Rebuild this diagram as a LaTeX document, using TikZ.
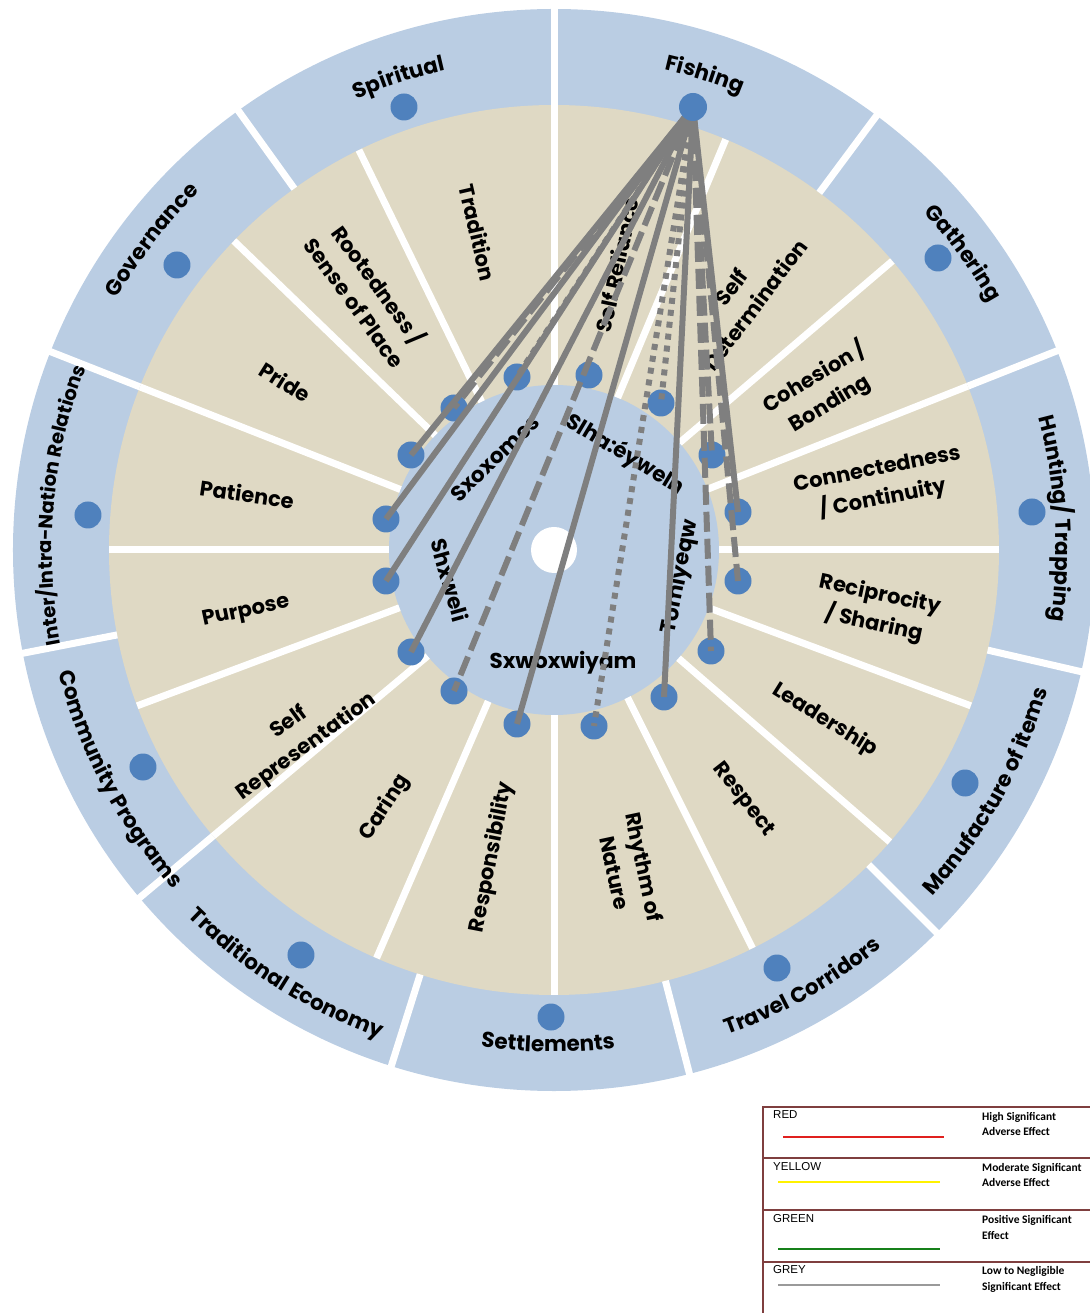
\documentclass[tikz,border=0pt]{standalone}
\usepackage{fontspec}
\setmainfont{Poppins}
\newfontfamily\keyfont{Liberation Sans}
\newfontfamily\notefont{Carlito}
\usetikzlibrary{decorations.text}

\definecolor{ringblue}{HTML}{BACDE3}
\definecolor{sand}{HTML}{DFD9C4}
\definecolor{dotblue}{HTML}{4F81BD}
\definecolor{linkgrey}{HTML}{7F7F7F}
\definecolor{keyframe}{HTML}{7F3F3F}
\definecolor{keyred}{HTML}{E0201E}
\definecolor{keyyellow}{HTML}{FFF200}
\definecolor{keygreen}{HTML}{16801A}
\definecolor{keygrey}{HTML}{9A9A9A}

% label read clockwise, letters pointing outwards: [size]{angle}{radius}{text}
\newcommand\ringtextcw[4][21.5]{%
  \path[decorate,decoration={text along path,text align=center,
      text={|\fontsize{#1}{24}\selectfont\bfseries|#4}}]
    ({#2+40}:#3) arc[start angle={#2+40},end angle={#2-40},radius=#3];}
% label read counter-clockwise, letters pointing inwards
\newcommand\ringtextccw[4][21.5]{%
  \path[decorate,decoration={text along path,text align=center,
      text={|\fontsize{#1}{24}\selectfont\bfseries|#4}}]
    ({#2-40}:#3) arc[start angle={#2-40},end angle={#2+40},radius=#3];}

\begin{document}
\begin{tikzpicture}[x=1pt,y=1pt,
  dot/.style={circle,fill=dotblue,minimum size=27pt,inner sep=0pt},
  divider/.style={white,line width=7pt},
  value/.style={font=\fontsize{21}{30}\selectfont\bfseries,align=center,inner sep=0pt},
  centre/.style={font=\fontsize{21.5}{26}\selectfont\bfseries,inner sep=0pt},
  link/.style={linkgrey,line width=6pt},
  solidlink/.style={link},
  dashlink/.style={link,dash pattern=on 20pt off 7pt},
  dotlink/.style={link,dash pattern=on 6pt off 6pt},
  keytitle/.style={font=\keyfont\fontsize{11.5}{13}\selectfont,anchor=west,inner sep=0pt},
  keynote/.style={font=\notefont\fontsize{11.5}{15.5}\selectfont\bfseries,anchor=west,align=left,inner sep=0pt},
  keyframe line/.style={keyframe,line width=1.5pt}
]
\useasboundingbox (-554,-763) rectangle (535,550);

% ---- rings ----
\fill[ringblue] (0,0) circle[radius=541];
\fill[sand] (0,0) circle[radius=445];
\fill[ringblue] (0,0) circle[radius=165];
\fill[white] (0,0) circle[radius=23];

% sector dividers of the values ring
\foreach \a in {0,21.6,40.5,67.3,90,116,136,158.5,180,200.5,220,246.5,270,296.5,319,339.5}
  \draw[divider] (\a:165) -- (\a:445);
% sector dividers of the activities ring
\foreach \a in {90,53.4,21.6,-13,-45,-75.5,252.5,220,191,158.5,125.7}
  \draw[divider] (\a:445) -- (\a:545);

% ---- activity labels ----
\ringtextcw{108.2}{492}{Spiritual}
\ringtextcw{72.4}{493}{Fishing}
\ringtextcw{36}{501}{Gathering}
\ringtextcw{3.6}{502}{Hunting/ Trapping}
\ringtextccw{-29.2}{513}{Manufacture of items}
\ringtextccw{-60.4}{515}{Travel Corridors}
\ringtextccw{-90.7}{502}{Settlements}
\ringtextccw{237.7}{518}{Traditional Economy}
\ringtextccw{207.8}{510}{Community Programs}
\ringtextcw[19.5]{174.8}{502}{Inter/Intra-Nation Relations}
\ringtextcw{142.4}{504}{Governance}

% ---- value labels ----
\node[value,rotate=-77] (l-tradition) at (-76,317) {Tradition};
\node[value,rotate=78] (l-selfrel) at (63,285) {Self Reliance};
\node[value,rotate=53] (l-selfdet) at (189,254) {Self\\Determination};
\node[value,rotate=31] (l-cohesion) at (268,160) {Cohesion /\\Bonding};
\node[value,rotate=11] (l-connect) at (326,65) {Connectedness\\/ Continuity};
\node[value,rotate=-12] (l-recip) at (323,-60) {Reciprocity\\/ Sharing};
\node[value,rotate=-32] (l-leader) at (271,-170) {Leadership};
\node[value,rotate=-52] (l-respect) at (189,-250) {Respect};
\node[value,rotate=-78] (l-rhythm) at (76,-320) {Rhythm of\\Nature};
\node[value,rotate=79] (l-respons) at (-62,-307) {Responsibility};
\node[value,rotate=57] (l-caring) at (-169,-258) {Caring};
\node[value,rotate=36] (l-selfrep) at (-256,-185) {Self\\Representation};
\node[value,rotate=12] (l-purpose) at (-308,-62) {Purpose};
\node[value,rotate=-8] (l-patience) at (-307,56) {Patience};
\node[value,rotate=-32] (l-pride) at (-269,168) {Pride};
\node[value,rotate=-54] (l-rooted) at (-186,257) {Rootedness /\\Sense of Place};

% ---- centre labels ----
\node[centre,rotate=44] (c-sxoxomes) at (-59,92) {Sxoxomes};
\node[centre,rotate=-31] (c-slha) at (71,95) {Slha:éyweln};
\node[centre,rotate=-74] (c-shxweli) at (-104,-30) {Shxweli};
\node[centre,rotate=79] (c-tomiyeqw) at (126,-27) {Tomiyeqw};
\node[centre] (c-sxwox) at (9,-113) {Sxwoxwiyam};

% ---- activity dots ----
\node[dot] (o-spiritual) at (-150,443) {};
\node[dot] (o-gathering) at (384,292) {};
\node[dot] (o-hunting) at (478,38) {};
\node[dot] (o-manufacture) at (411,-233) {};
\node[dot] (o-travel) at (223,-418) {};
\node[dot] (o-settlements) at (-3,-467) {};
\node[dot] (o-economy) at (-253,-405) {};
\node[dot] (o-community) at (-411,-217) {};
\node[dot] (o-relations) at (-466,35) {};
\node[dot] (o-governance) at (-377,285) {};

% ---- value dots ----
\node[dot] (d-tradition) at (-37,173) {};
\node[dot] (d-selfrel) at (35,175) {};
\node[dot] (d-selfdet) at (107,147) {};
\node[dot] (d-cohesion) at (158,95) {};
\node[dot] (d-connect) at (184,38) {};
\node[dot] (d-recip) at (184,-31) {};
\node[dot] (d-leader) at (157,-101) {};
\node[dot] (d-respect) at (110,-147) {};
\node[dot] (d-rhythm) at (40,-176) {};
\node[dot] (d-respons) at (-37,-174) {};
\node[dot] (d-caring) at (-100,-141) {};
\node[dot] (d-selfrep) at (-143,-102) {};
\node[dot] (d-purpose) at (-168,-31) {};
\node[dot] (d-patience) at (-168,31) {};
\node[dot] (d-pride) at (-143,95) {};
\node[dot] (d-rooted) at (-100,142) {};

% ---- effects of fishing on each value ----
\coordinate (src) at (139,443);
\draw[dotlink]   (src) -- (d-tradition.center);
\draw[dashlink]  (src) -- (d-rooted.center);
\draw[solidlink] (src) -- (d-pride.center);
\draw[solidlink] (src) -- (d-patience.center);
\draw[solidlink] (src) -- (d-purpose.center);
\draw[solidlink] (src) -- (d-selfrep.center);
\draw[dashlink]  (src) -- (d-caring.center);
\draw[solidlink] (src) -- (d-respons.center);
\draw[dotlink]   (src) -- (d-rhythm.center);
\draw[solidlink] (src) -- (d-respect.center);
\draw[dashlink]  (src) -- (d-leader.center);
\draw[dashlink]  (src) -- (d-recip.center);
\draw[solidlink] (src) -- (d-connect.center);
\draw[dashlink]  (src) -- (d-cohesion.center);
\draw[dotlink]   (src) -- (d-selfdet.center);
\node[dot,minimum size=28pt] (o-fishing) at (src) {};

% ---- legend ----
\draw[keyframe line] (540,-557) -- (209,-557) -- (209,-764);
\draw[keyframe line] (209,-608) -- (540,-608);
\draw[keyframe line] (209,-660) -- (540,-660);
\draw[keyframe line] (209,-712) -- (540,-712);

\node[keytitle] (k-red) at (219,-565) {RED};
\node[keytitle] (k-yellow) at (219,-617) {YELLOW};
\node[keytitle] (k-green) at (219,-669) {GREEN};
\node[keytitle] (k-grey) at (219,-720) {GREY};

\draw[keyred,line width=2.5pt] (229,-587) -- (390,-587);
\draw[keyyellow,line width=2.5pt] (224,-632) -- (386,-632);
\draw[keygreen,line width=2.5pt] (224,-699) -- (386,-699);
\draw[keygrey,line width=2.5pt] (224,-735) -- (386,-735);

\node[keynote] (n-red) at (428,-574) {High Significant\\Adverse Effect};
\node[keynote] (n-yellow) at (428,-625) {Moderate Significant\\Adverse Effect};
\node[keynote] (n-green) at (428,-677.5) {Positive Significant\\Effect};
\node[keynote] (n-grey) at (428,-729.5) {Low to Negligible\\Significant Effect};
\end{tikzpicture}
\end{document}
